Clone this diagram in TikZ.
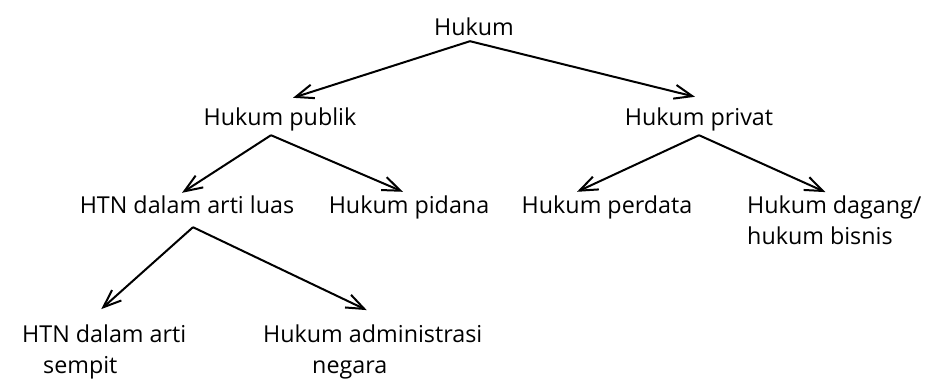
\documentclass[tikz,border=0pt]{standalone}
\usepackage{fontspec}
\setmainfont{Open Sans}
\usetikzlibrary{arrows.meta}
\tikzset{
  lbl/.style={inner sep=0pt, font=\fontsize{23.3}{31}\selectfont},
  one/.style={lbl, anchor=base, text height=18pt, text depth=6pt},
  two/.style={lbl, anchor=base west, align=left},
  arr/.style={-{Straight Barb[length=18pt,width=14pt]}, line width=2pt}
}
\begin{document}
\begin{tikzpicture}[x=1pt,y=-1pt]
\useasboundingbox (0,0) rectangle (941,383);
\node[one] (hukum) at (474,35) {Hukum};

\node[one] (publik) at (280,125) {Hukum publik};
\node[one] (privat) at (699,125) {Hukum privat};

\node[one] (luas) at (187,213) {HTN dalam arti luas};
\node[one] (pidana) at (409,213) {Hukum pidana};
\node[one] (perdata) at (607,213) {Hukum perdata};
\node[two] (dagang) at (747,244) {Hukum dagang/\\hukum bisnis};

\node[two] (sempit) at (22,373) {HTN dalam arti\\\hspace*{21pt}sempit};
\node[two] (admin) at (263,373) {Hukum administrasi\\\hspace*{49pt}negara};

\draw[arr] ([xshift=-4pt]hukum.south) -- ([xshift=13pt,yshift=9pt]publik.north);
\draw[arr] ([xshift=-4pt]hukum.south) -- ([xshift=-4pt,yshift=10pt]privat.north);

\draw[arr] ([xshift=-9pt,yshift=-4pt]publik.south) -- ([xshift=-5pt,yshift=2pt]luas.north);
\draw[arr] ([xshift=-9pt,yshift=-4pt]publik.south) -- ([xshift=-6pt,yshift=3pt]pidana.north);

\draw[arr] ([yshift=-4pt]privat.south) -- ([xshift=-30pt,yshift=3pt]perdata.north);
\draw[arr] ([yshift=-4pt]privat.south) -- ([xshift=-9pt,yshift=3pt]dagang.north);

\draw[arr] ([xshift=6pt,yshift=-8pt]luas.south) -- ([xshift=-3pt,yshift=15pt]sempit.north);
\draw[arr] ([xshift=6pt,yshift=-8pt]luas.south) -- ([xshift=-6pt,yshift=14pt]admin.north);
\end{tikzpicture}
\end{document}
